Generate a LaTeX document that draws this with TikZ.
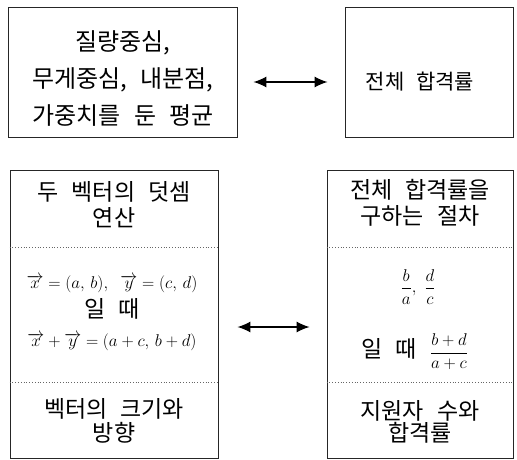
\RequirePackage{fix-cm}
\documentclass[tikz,border=0pt]{standalone}
\usepackage{amsmath}
\usepackage{fontspec}
\newfontfamily\kr[WordSpace=2.5]{Noto Sans CJK KR}
\usetikzlibrary{arrows.meta,positioning}

\begin{document}
\begin{tikzpicture}[x=1pt, y=-1pt,
    box/.style={draw=black!85, line width=0.8pt, inner sep=0pt},
    sep/.style={draw=black!60, dotted, line width=0.8pt},
    link/.style={{Latex[length=13pt,width=11pt]}-{Latex[length=13pt,width=11pt]}, line width=1.4pt},
    every node/.style={font=\kr\fontsize{24}{37}\selectfont, align=center}]
    \useasboundingbox (0,0) rectangle (517,460);
    % Top row
    \node[box, minimum width=229pt, minimum height=130pt] (massbox) at (122.5,72) {};
    \node (masstext) at (123,79) {질량중심,\\무게중심, 내분점,\\가중치를 둔 평균};
    \node[box, minimum width=168pt, minimum height=130pt] (ratebox) at (429,72) {};
    \node[font=\kr\fontsize{21}{26}\selectfont] (ratetext) at (420,82) {전체 합격률};

    % Bottom row, vectors
    \node[box, minimum width=208pt, minimum height=288pt] (vecbox) at (114,314) {};
    \draw[sep] (vecbox.west |- 0,247) -- (vecbox.east |- 0,247);
    \draw[sep] (vecbox.west |- 0,382) -- (vecbox.east |- 0,382);
    \node[font=\kr\fontsize{23}{26}\selectfont] (vectitle) at (114,205) {두 벡터의 덧셈\\연산};
    \node[font=\kr\fontsize{17}{29}\selectfont] (vecmath) at (112,313)
        {$\overrightarrow{x}=(a,\,b),\ \overrightarrow{y}=(c,\,d)$\\
         {\fontsize{23}{29}\selectfont 일 때}\\
         $\overrightarrow{x}+\overrightarrow{y}=(a+c,\,b+d)$};
    \node[font=\kr\fontsize{23}{24}\selectfont] (vecsize) at (114,421) {벡터의 크기와\\방향};

    % Bottom row, pass rate
    \node[box, minimum width=186pt, minimum height=288pt] (procbox) at (420,314) {};
    \draw[sep] (procbox.west |- 0,247) -- (procbox.east |- 0,247);
    \draw[sep] (procbox.west |- 0,382) -- (procbox.east |- 0,382);
    \node[font=\kr\fontsize{23}{26}\selectfont] (proctitle) at (420,203) {전체 합격률을\\구하는 절차};
    \node[font=\fontsize{17}{20}\selectfont] (fracs) at (418,287) {$\dfrac{b}{a},\ \dfrac{d}{c}$};
    \node[font=\kr\fontsize{23}{26}\selectfont] (whenfrac) at (415,352) {일 때 {\fontsize{17}{20}\selectfont$\dfrac{b+d}{a+c}$}};
    \node[font=\kr\fontsize{23}{22}\selectfont] (procsize) at (420,422) {지원자 수와\\합격률};

    % Links
    \draw[link] ([xshift=16pt,yshift=-10pt]massbox.east) -- ([xshift=-17pt,yshift=-10pt]ratebox.west);
    \draw[link] ([xshift=19pt,yshift=-13pt]vecbox.east) -- ([xshift=-17pt,yshift=-13pt]procbox.west);
\end{tikzpicture}
\end{document}
